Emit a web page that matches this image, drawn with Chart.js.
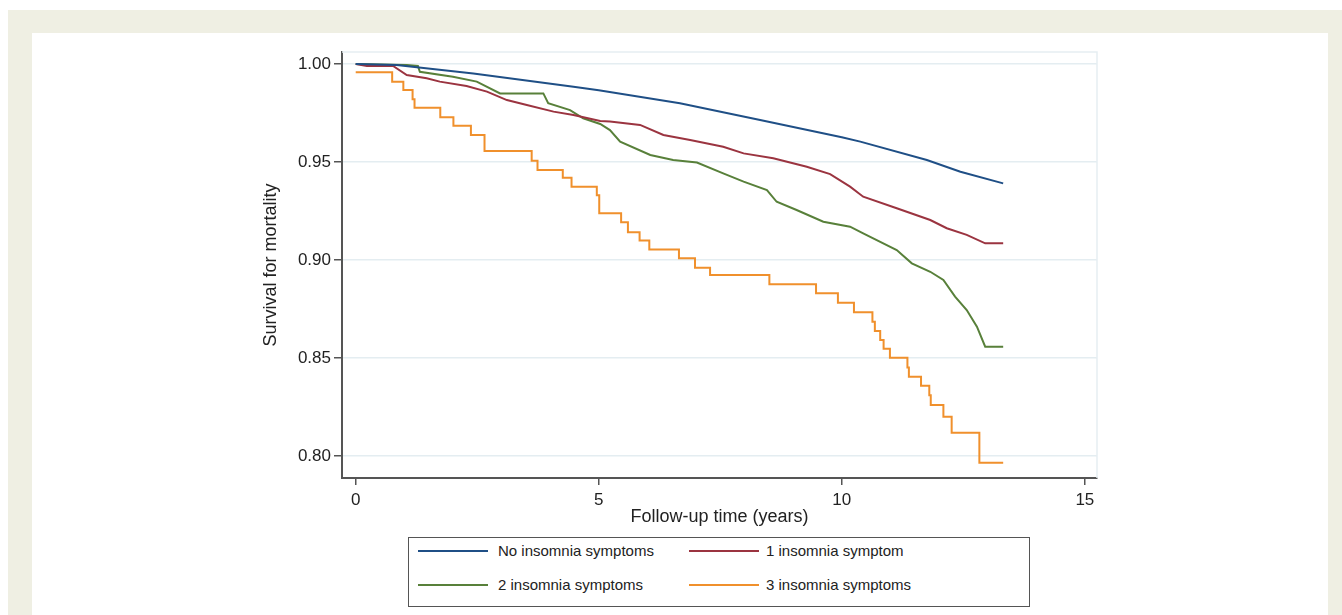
<!DOCTYPE html>
<html>
<head>
<meta charset="utf-8">
<script src="https://cdn.jsdelivr.net/npm/chart.js@4.4.1/dist/chart.umd.min.js"></script>
<style>
  body { margin: 0; background: #fff; width: 1342px; height: 615px; overflow: hidden; position: relative; font-family: "Liberation Sans", Arial, sans-serif; }
  .band { position: absolute; background: #efefe3; }
  #chart { position: absolute; left: 0; top: 0; }
  #legend { position: absolute; left: 408px; top: 537px; width: 620px; height: 68px; border: 1px solid #555; background: #fff; }
  #legend .ln { position: absolute; width: 70px; height: 2px; }
  #legend .tx { position: absolute; font-size: 15px; color: #222; line-height: 18px; white-space: nowrap; }
</style>
</head>
<body>
<div class="band" style="left:8px;top:10px;width:1334px;height:23px"></div>
<div class="band" style="left:8px;top:33px;width:24px;height:582px"></div>
<div class="band" style="left:1328px;top:33px;width:14px;height:582px"></div>
<canvas id="chart" width="1342" height="615"></canvas>
<div id="legend"></div>
<script>
// Kaplan-Meier survival for mortality, by number of insomnia symptoms
const seriesNames = ["No insomnia symptoms", "1 insomnia symptom", "2 insomnia symptoms", "3 insomnia symptoms"];
const seriesColors = ["#1f4f86", "#9b3440", "#58803a", "#f0902c"];

const t0 = [0, 0.84, 2.42, 4.48, 5.0, 6.67, 8.32, 10.0, 10.38, 11.75, 12.44, 13.32];
const s0 = [1.0, 0.9995, 0.9952, 0.9884, 0.9866, 0.980, 0.9714, 0.9626, 0.9604, 0.951, 0.945, 0.9391];

const t1 = [0, 0.23, 0.77, 1.05, 1.46, 1.73, 2.28, 2.7, 3.11, 3.52, 4.07, 4.48, 5.03, 5.23, 5.85, 6.33, 6.88, 7.56, 7.98, 8.59, 9.28, 9.76, 10.17, 10.44, 11.13, 11.82, 12.16, 12.57, 12.95, 13.32];
const s1 = [1.0, 0.999, 0.999, 0.9944, 0.9927, 0.991, 0.9888, 0.9859, 0.9816, 0.9791, 0.9757, 0.974, 0.9709, 0.9706, 0.9689, 0.9638, 0.9612, 0.9578, 0.9544, 0.9519, 0.9476, 0.9438, 0.9374, 0.9323, 0.9264, 0.9204, 0.9162, 0.9128, 0.9085, 0.9085];

const t2 = [0, 1.05, 1.28, 1.32, 2.0, 2.49, 2.97, 3.86, 3.96, 4.41, 4.68, 5.03, 5.23, 5.44, 6.06, 6.53, 7.02, 7.56, 7.98, 8.46, 8.66, 9.07, 9.62, 10.17, 10.44, 11.13, 11.44, 11.82, 12.09, 12.33, 12.57, 12.78, 12.95, 13.32];
const s2 = [1.0, 0.9995, 0.999, 0.996, 0.9935, 0.991, 0.985, 0.985, 0.980, 0.9765, 0.9723, 0.9694, 0.9663, 0.9604, 0.9536, 0.951, 0.9497, 0.9442, 0.94, 0.9357, 0.9297, 0.9255, 0.9195, 0.917, 0.9136, 0.9051, 0.8983, 0.894, 0.8898, 0.8813, 0.8745, 0.866, 0.8558, 0.8558];

// step function: value after each drop
const t3 = [0, 0.75, 0.98, 1.17, 1.21, 1.74, 2.01, 2.37, 2.65, 3.62, 3.74, 4.26, 4.44, 4.96, 5.01, 5.46, 5.6, 5.84, 6.04, 6.65, 6.98, 7.29, 8.51, 9.47, 9.92, 10.25, 10.63, 10.68, 10.79, 10.86, 10.99, 11.35, 11.38, 11.63, 11.8, 11.83, 12.09, 12.26, 12.83, 13.32];
const s3 = [0.9958, 0.991, 0.9867, 0.982, 0.9777, 0.9728, 0.9685, 0.9638, 0.9556, 0.9507, 0.9459, 0.942, 0.9374, 0.933, 0.9238, 0.9192, 0.9141, 0.910, 0.9054, 0.9009, 0.8961, 0.8923, 0.8876, 0.883, 0.8782, 0.8733, 0.8685, 0.8638, 0.8592, 0.8547, 0.8501, 0.8452, 0.8405, 0.8359, 0.831, 0.826, 0.820, 0.8119, 0.7966, 0.7966];

const xTicks = [0, 5, 10, 15];
const yTicks = [0.80, 0.85, 0.90, 0.95, 1.00];

function pts(t, s) {
  return t.map((x, i) => ({ x: x, y: s[i] }));
}

const allT = [t0, t1, t2, t3];
const allS = [s0, s1, s2, s3];

const FONT = "'Liberation Sans', Arial, sans-serif";

// faint frame on top and right of the plot region
const plotFrame = {
  id: "plotFrame",
  beforeDatasetsDraw(chart) {
    const a = chart.chartArea;
    const c = chart.ctx;
    c.save();
    c.strokeStyle = "#e6eef2";
    c.lineWidth = 1.5;
    c.beginPath();
    c.moveTo(a.left, a.top);
    c.lineTo(a.right, a.top);
    c.lineTo(a.right, a.bottom);
    c.stroke();
    c.restore();
  },
};

const ctx = document.getElementById("chart").getContext("2d");
const chart = new Chart(ctx, {
  type: "line",
  data: {
    datasets: seriesNames.map((name, i) => ({
      label: name,
      data: pts(allT[i], allS[i]),
      borderColor: seriesColors[i],
      borderWidth: 2,
      pointRadius: 0,
      fill: false,
      tension: 0,
      stepped: i === 3 ? "before" : false,
    })),
  },
  options: {
    responsive: false,
    animation: false,
    layout: { padding: { left: 260, right: 245, top: 52, bottom: 87 } },
    plugins: { legend: { display: false }, tooltip: { enabled: false } },
    scales: {
      x: {
        type: "linear",
        min: -0.282,
        max: 15.25,
        afterBuildTicks: (s) => { s.ticks = xTicks.map((v) => ({ value: v })); },
        afterFit: (s) => { s.height = 50; },
        grid: { drawOnChartArea: false, drawTicks: true, tickLength: 7, tickColor: "#555", lineWidth: 1.5 },
        border: { display: true, color: "#555", width: 2 },
        ticks: { color: "#222", font: { family: FONT, size: 17 }, padding: 5, maxRotation: 0 },
        title: { display: true, text: "Follow-up time (years)", color: "#222", font: { family: FONT, size: 18 }, padding: { top: 0, bottom: 0 } },
      },
      y: {
        type: "linear",
        min: 0.78878,
        max: 1.00612,
        afterBuildTicks: (s) => { s.ticks = yTicks.map((v) => ({ value: v })); },
        afterFit: (s) => { s.width = 82; },
        grid: { color: "#e4edf1", lineWidth: 1.5, drawTicks: true, tickLength: 8, tickColor: "#555" },
        border: { display: true, color: "#555", width: 2 },
        ticks: { color: "#222", font: { family: FONT, size: 17 }, padding: 3, callback: (v) => Number(v).toFixed(2) },
        title: { display: true, text: "Survival for mortality", color: "#222", font: { family: FONT, size: 18 }, padding: { top: 0, bottom: 0 } },
      },
    },
  },
  plugins: [plotFrame],
});

// legend in two columns, like the original
const legend = document.getElementById("legend");
const colX = [9, 280];
const rowY = [13, 47];
seriesNames.forEach((name, i) => {
  const col = i % 2;
  const row = Math.floor(i / 2);
  const ln = document.createElement("div");
  ln.className = "ln";
  ln.style.background = seriesColors[i];
  ln.style.left = colX[col] + "px";
  ln.style.top = rowY[row] - 1 + "px";
  legend.appendChild(ln);
  const tx = document.createElement("div");
  tx.className = "tx";
  tx.textContent = name;
  tx.style.left = colX[col] + (col === 0 ? 80 : 77) + "px";
  tx.style.top = rowY[row] - 9 + "px";
  legend.appendChild(tx);
});
</script>
</body>
</html>
